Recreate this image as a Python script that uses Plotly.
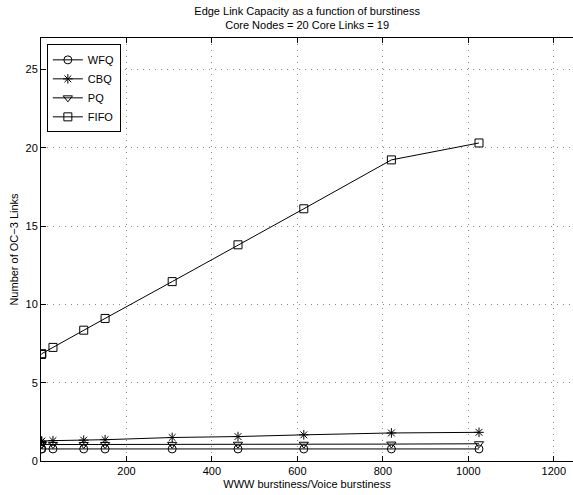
import plotly.graph_objects as go

x_burst = [1, 2, 28, 100, 150, 307, 461, 615, 820, 1025]
wfq = [0.77, 0.77, 0.77, 0.77, 0.77, 0.77, 0.77, 0.77, 0.77, 0.77]
cbq = [1.25, 1.27, 1.30, 1.33, 1.36, 1.50, 1.56, 1.67, 1.79, 1.83]
pq = [1.05, 1.05, 1.05, 1.05, 1.05, 1.06, 1.07, 1.07, 1.08, 1.10]
fifo = [6.80, 6.85, 7.25, 8.35, 9.10, 11.45, 13.80, 16.10, 19.22, 20.30]

series = [
    ("WFQ", wfq, "circle-open"),
    ("CBQ", cbq, "asterisk-open"),
    ("PQ", pq, "triangle-down-open"),
    ("FIFO", fifo, "square-open"),
]

fig = go.Figure()
for name, ys, sym in series:
    fig.add_trace(go.Scatter(
        x=x_burst, y=ys, name=name, mode="lines+markers",
        line=dict(color="black", width=1),
        marker=dict(symbol=sym, size=8, color="black", line=dict(color="black", width=1)),
    ))

font = "Liberation Sans, Arial, sans-serif"
fig.update_layout(
    width=573, height=495,
    margin=dict(l=41, r=0, t=38, b=34),
    paper_bgcolor="white", plot_bgcolor="white",
    font=dict(family=font, size=11, color="black"),
    title=dict(
        text="Edge Link Capacity as a function of burstiness<br>Core Nodes = 20 Core Links = 19",
        x=0.536, xanchor="center", y=0.970, yanchor="top",
        font=dict(size=11), automargin=False,
    ),
    showlegend=True,
    legend=dict(
        x=0.011, y=0.985, xanchor="left", yanchor="top",
        bgcolor="white", bordercolor="black", borderwidth=1,
        font=dict(size=11), tracegroupgap=0, itemwidth=30,
    ),
    xaxis=dict(
        range=[0, 1245], tickvals=[200, 400, 600, 800, 1000, 1200],
        showgrid=True, gridcolor="#888888", griddash="1px,5px", gridwidth=1,
        showline=True, linecolor="black", linewidth=1, mirror="ticks",
        ticks="inside", ticklen=5, tickcolor="black",
        zeroline=False, automargin=False,
        title=dict(text="WWW burstiness/Voice burstiness", standoff=4, font=dict(size=11)),
    ),
    yaxis=dict(
        range=[0, 27], tickvals=[0, 5, 10, 15, 20, 25],
        showgrid=True, gridcolor="#888888", griddash="1px,5px", gridwidth=1,
        showline=True, linecolor="black", linewidth=1, mirror=False,
        ticks="inside", ticklen=5, tickcolor="black",
        zeroline=False, automargin=False,
        title=dict(text="Number of OC\u22123 Links", standoff=4, font=dict(size=11)),
    ),
)

fig.write_html(
    "out.html",
    config={"displayModeBar": False},
    post_script="document.body.style.margin='0';document.body.style.overflow='hidden';",
)
